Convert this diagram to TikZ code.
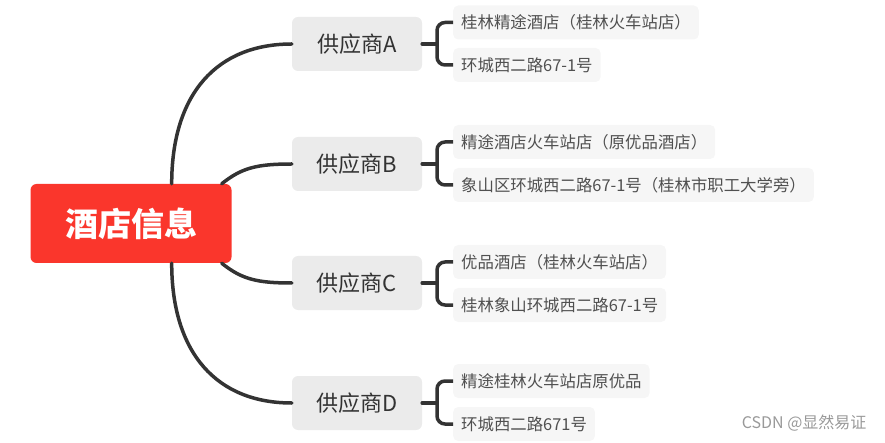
\documentclass[tikz,border=0pt]{standalone}
\usepackage{fontspec}
\usepackage{xcolor}
\usepackage{tikz}
\usetikzlibrary{positioning}
\newfontfamily\cjk{Noto Sans CJK SC}
\definecolor{rootred}{RGB}{250, 54, 44}
\definecolor{suppliergray}{RGB}{235, 235, 235}
\definecolor{leafgray}{RGB}{246, 246, 246}
\definecolor{linedark}{RGB}{51, 51, 51}
\definecolor{textgray}{RGB}{80, 80, 80}

\begin{document}
\begin{tikzpicture}[x=1pt, y=-1pt,
    root/.style={fill=rootred, rounded corners=6pt, minimum width=201pt,
                 minimum height=79pt, text=white,
                 font={\cjk\bfseries\fontsize{33}{38}\selectfont}},
    supplier/.style={fill=suppliergray, rounded corners=6pt, minimum width=130pt,
                     minimum height=54pt, text=linedark,
                     font={\cjk\fontsize{22}{26}\selectfont}},
    leaf/.style={fill=leafgray, rounded corners=5pt, minimum height=34pt,
                 inner xsep=8pt, anchor=west, text=textgray,
                 font={\cjk\fontsize{16.4}{19}\selectfont}},
    branch/.style={draw=linedark, line width=3.5pt, line cap=round},
    bracket/.style={draw=linedark, line width=3.5pt, rounded corners=8pt}
]
    \useasboundingbox (0,0) rectangle (885,443);

    \node[root] (root) at (131,223.5) {酒店信息};

    \node[supplier] (sa) at (357,44) {供应商A};
    \node[supplier] (sb) at (357,164) {供应商B};
    \node[supplier] (sc) at (357,283) {供应商C};
    \node[supplier] (sd) at (357,403) {供应商D};

    % leaves
    \node[leaf] (a1) at (453,22.5) {桂林精途酒店（桂林火车站店）};
    \node[leaf] (a2) at (453,65) {环城西二路67-1号};
    \node[leaf] (b1) at (453,142) {精途酒店火车站店（原优品酒店）};
    \node[leaf] (b2) at (453,185) {象山区环城西二路67-1号（桂林市职工大学旁）};
    \node[leaf] (c1) at (453,262) {优品酒店（桂林火车站店）};
    \node[leaf] (c2) at (453,305) {桂林象山环城西二路67-1号};
    \node[leaf] (d1) at (453,381) {精途桂林火车站店原优品};
    \node[leaf] (d2) at (453,424) {环城西二路671号};

    \coordinate (ja) at (437,44);
    \coordinate (jb) at (437,164);
    \coordinate (jc) at (437,283);
    \coordinate (jd) at (437,403);

    % root to suppliers
    \draw[branch] ([xshift=-60pt]root.north east) .. controls +(0,-90) and +(-75,0) .. (sa.west);
    \draw[branch] ([xshift=-10pt]root.north east) .. controls +(20,-16) and +(-35,0) .. (sb.west);
    \draw[branch] ([xshift=-10pt]root.south east) .. controls +(20,16) and +(-35,0) .. (sc.west);
    \draw[branch] ([xshift=-60pt]root.south east) .. controls +(0,90) and +(-75,0) .. (sd.west);

    % suppliers to leaves
    \foreach \s/\j/\u/\l in {sa/ja/a1/a2, sb/jb/b1/b2, sc/jc/c1/c2, sd/jd/d1/d2}{
        \draw[branch] (\s.east) -- (\j);
        \draw[bracket] (\u.west) -| (\j) |- (\l.west);
    }

    \node[anchor=east, text=black!40, font={\cjk\fontsize{16}{19}\selectfont}] (mark) at (870,423) {CSDN @显然易证};
\end{tikzpicture}
\end{document}
